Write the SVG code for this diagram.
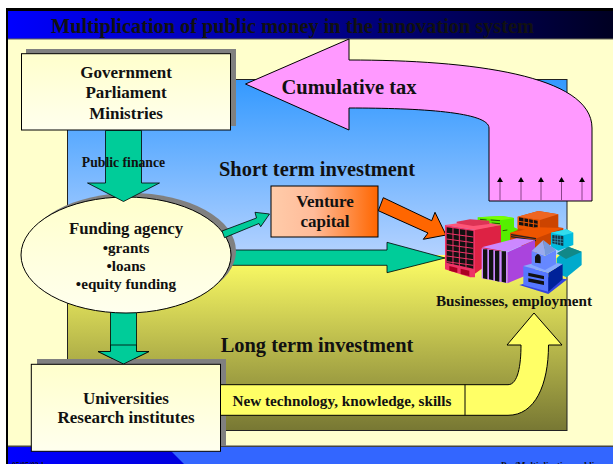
<svg xmlns="http://www.w3.org/2000/svg" width="613" height="464" viewBox="0 0 613 464">
<style>
text{font-family:"Liberation Serif","Times New Roman",serif;font-weight:bold;fill:#111;text-anchor:middle}
.s{text-anchor:start}
.k{stroke:#000;stroke-width:1}
.g{fill:#00cc99;stroke:#000;stroke-width:.8}
.sh{fill:#808080}
.box{stroke:#000;stroke-width:1}
</style>
<defs>
<linearGradient id="tb" x1="0" x2="1" y1="0" y2="0"><stop offset="0" stop-color="#0000ff"/><stop offset="1" stop-color="#000022"/></linearGradient>
<linearGradient id="pn" gradientUnits="userSpaceOnUse" x1="0" x2="0" y1="79" y2="431"><stop offset="0" stop-color="#3399ff"/><stop offset=".5" stop-color="#b4d2ff"/><stop offset=".5" stop-color="#ffff66"/><stop offset="1" stop-color="#777733"/></linearGradient>
<linearGradient id="cr" x1="0" x2="0" y1="0" y2="1"><stop offset="0" stop-color="#ffffcc"/><stop offset="1" stop-color="#ffffee"/></linearGradient>
<linearGradient id="vc" x1="0" x2="1" y1="0" y2="0"><stop offset="0" stop-color="#ffccaa"/><stop offset=".4" stop-color="#ffbb99"/><stop offset="1" stop-color="#ff6600"/></linearGradient>
<linearGradient id="ft" x1="0" x2="1" y1="0" y2="0"><stop offset="0" stop-color="#0000ff"/><stop offset="1" stop-color="#0000dd"/></linearGradient>
<marker id="up" markerWidth="6" markerHeight="6" refX="3" refY="5" orient="0" viewBox="0 0 6 6"><path d="M0 5L3 0L6 5Z" fill="#000"/></marker>
</defs>

<rect width="613" height="464" fill="#fff"/>
<rect x="6" y="8" width="607" height="456" fill="#000"/>
<rect x="8" y="11" width="605" height="453" fill="#ffffcc"/>
<rect x="8" y="11" width="605" height="28" fill="url(#tb)"/>
<rect x="8" y="38.5" width="605" height="1" fill="#666655"/>
<rect x="8" y="446" width="605" height="18" fill="#3366ff"/>
<path d="M8 447H167L184 464H8Z" fill="url(#ft)"/>
<rect x="8" y="445.5" width="605" height="1.5" fill="#444444"/>
<text class="s" x="51" y="33" font-size="20.3">Multiplication of public money in the innovation system</text>
<text class="s" x="12" y="467.5" font-size="7.5">05/05/03 1</text>
<text class="s" x="501" y="468" font-size="9">Pso/Multiplication publique</text>

<rect id="panel" x="67.500" y="79.500" width="499.500" height="351" fill="url(#pn)" stroke="#222" stroke-width="1"/>

<g id="tax-connector">
<path id="tax-arrow" class="k" fill="#ff99ff" d="M245.500 84L349 39V60C470 60 592 75 592 128V201H489V128C489 112 420 108 349 108V130Z"/>
<g stroke="#884488" stroke-width="1" marker-end="url(#up)">
<path d="M500 201V182"/><path d="M521 201V182"/><path d="M541 201V182"/><path d="M561.500 201V182"/><path d="M582 201V182"/>
</g>
</g>

<g id="government"><rect class="sh" x="26" y="49" width="210" height="77"/><rect class="box" x="21.500" y="53.700" width="209" height="76.300" fill="url(#cr)"/>
<text x="126" y="78" font-size="17">Government</text><text x="126" y="98" font-size="17">Parliament</text><text x="126" y="119" font-size="17">Ministries</text></g>

<g id="connectors">
<path class="g" d="M110.500 305H136.500V351.500H149L123.500 364L98 351.500H110.500Z"/>
<path class="g" d="M228 250H387V242.300L445 258L387 272.700V265.300H228Z"/>
<path fill="#ff6600" class="k" d="M383.300 197.700L431.700 220.700L435 212.300L446 235L423.300 239.300L428 233L378.300 210.700Z"/>
</g>

<g id="funding"><ellipse class="sh" cx="131" cy="251" rx="105" ry="58"/><ellipse class="box" cx="126" cy="255" rx="105" ry="58" fill="url(#cr)"/>
<text x="126" y="234" font-size="16.800">Funding agency</text><text x="126" y="252.700" font-size="15.200">•grants</text><text x="126" y="270.700" font-size="15.200">•loans</text><text x="126" y="289" font-size="15.200">•equity funding</text></g>

<g id="connectors-2">
<path id="finance-arrow" class="g" d="M105.500 130.500H141.500V183H159.500L123.500 201.500L87.500 183H105.500Z"/>
<path class="g" d="M222 231L256.500 218L255 212.300L269.500 214L260.700 226.700L259 223.500L224.500 237.700Z"/>
</g>
<text id="lbl-finance" x="123.500" y="166.500" font-size="13.700">Public finance</text>

<g id="venture"><rect class="box" x="271" y="186" width="107" height="51" fill="url(#vc)"/><text x="325" y="207.300" font-size="17">Venture</text><text x="325" y="227.300" font-size="17">capital</text></g>

<g id="universities"><rect class="sh" x="37" y="359" width="189" height="87"/>
<path id="knowledge-arrow" class="k" fill="#ffff66" d="M220.500 384.700H508C518 384.700 521 365 521 345H507L534 313L562 345H548.500C548.500 385 535 415.300 508 415.300H220.500Z"/>
<path d="M465 384.700V415.300" class="k" fill="none"/>
<path class="g" d="M110.500 345H136.500V351.500H149L123.500 364L98 351.500H110.500Z"/><rect class="box" x="31.300" y="364.300" width="189.200" height="87" fill="url(#cr)"/>
<text x="126" y="404" font-size="17">Universities</text><text x="126" y="423" font-size="17">Research institutes</text></g>

<text x="349" y="93.500" font-size="20.500">Cumulative tax</text>
<text x="317" y="175.700" font-size="20.400">Short term investment</text>
<text x="317" y="351.700" font-size="20.400">Long term investment</text>
<text x="342" y="405.700" font-size="15.200">New technology, knowledge, skills</text>

<g id="businesses">
<g transform="translate(420 190) scale(.3333)">
<path fill="#55ee00" d="M173 82L245 78L282 84V112L300 120V150L245 190L173 150Z"/>
<path fill="#77ff00" d="M173 82L245 78L282 84L245 90Z"/>
<path d="M180 88L200 90M212 90L240 92M190 98L205 99M215 99L240 101M248 122L262 120" stroke="#225500" stroke-width="3" fill="none"/>
<path fill="#cc4400" d="M293 80L355 63L415 73V112L430 114V140L350 190L270 150V130L293 120Z"/>
<path fill="#ee6622" d="M293 80L355 63L415 73L360 90Z"/>
<path fill="#ee5500" d="M293 80L360 90V130L293 115Z"/>
<path fill="#111" d="M297 82L353 92V114L297 105Z"/>
<path d="M312 82V108M326 84V110M340 88V112M297 94L353 103" stroke="#ee5500" stroke-width="3"/>
<path fill="#ee5500" d="M270 128L350 112L430 114L350 145Z"/>
<path d="M273 134L348 146M273 140L348 152" stroke="#222" stroke-width="4" fill="none"/>
<path fill="#00aacc" d="M410 205L445 170L485 185V225L440 262L410 250Z"/>
<path fill="#118888" d="M410 190L445 170L485 185L438 207Z"/>
<path fill="#00bbdd" d="M393 128L440 118L460 128V165L415 182L393 170Z"/>
<path fill="#33ddee" d="M393 128L440 118L460 128L430 136Z"/>
<path fill="#113344" d="M397 135L430 138V168L397 160Z"/>
<path d="M405 135V165M413 135V165M421 136V167M397 146L430 150M397 154L430 158" stroke="#33aacc" stroke-width="2"/>
<path fill="#dd2244" d="M165 118L243 105V195L150 262V240Z"/>
<path fill="#ff5577" d="M75 105L170 92L243 105L165 120Z"/>
<path fill="#dd3355" d="M110 95L150 88L208 92V102L160 108L110 100Z"/>
<path fill="#ee3366" d="M75 105L165 120L165 262L150 262L75 238Z"/>
<path fill="#111" d="M80 112L160 123V236L80 218Z"/>
<path d="M99 112V225M118 116V228M138 118V232M80 130L160 141M80 147L160 158M80 164L160 175M80 181L160 192M80 198L160 209M80 215L160 226" stroke="#ee3366" stroke-width="3"/>
<path fill="#aa0022" d="M88 228L112 234V248L88 242ZM122 236L148 242V258L122 252Z"/>
<path fill="#aa44dd" d="M262 187L345 150V245L262 280Z"/>
<path fill="#cc88ff" d="M185 172L290 145L345 150L262 185Z"/>
<path fill="#cc88ff" d="M185 175L262 187V280L185 265Z"/>
<path fill="#111" d="M189 178H202V268L189 265ZM207 180H220V271L207 268ZM225 182H238V275L225 272ZM245 184H258V278L245 275Z"/>
<path fill="#3344dd" d="M298 285L385 262L442 268L385 312Z"/>
<path fill="#5577ff" d="M310 228L385 248V305L310 285Z"/>
<path fill="#002299" d="M385 248L428 222V268L385 305Z"/>
<path fill="#88aaff" d="M310 228L365 212L428 222L385 248Z"/>
<path fill="#111" d="M325 248L372 258V268L325 258ZM325 265L372 274V285L325 275Z"/>
<path fill="#6688ff" d="M335 183L375 197V240L335 224Z"/>
<path fill="#6688ff" d="M375 197L408 180V222L375 240Z"/>
<path fill="#99aaee" d="M370 150L335 183L375 197Z"/>
<path fill="#7799dd" d="M370 150L375 197L408 180Z"/>
<path fill="#111" d="M345 218V200Q354 184 362 200V220Z"/>
</g>
<text x="514" y="306" font-size="15.200">Businesses, employment</text>
</g>
</svg>
